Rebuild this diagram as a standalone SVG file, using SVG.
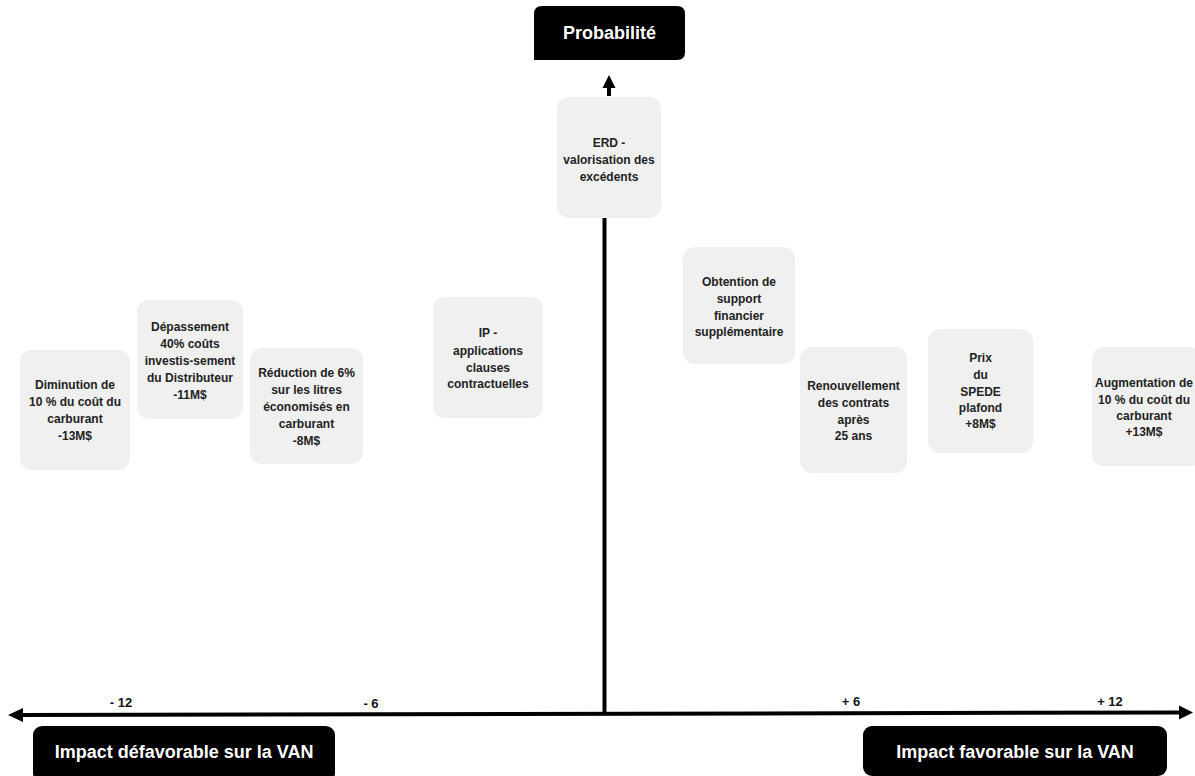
<svg xmlns="http://www.w3.org/2000/svg" width="1195" height="776" viewBox="0 0 1195 776">
<style>
.box{fill:#f0f0f0;}
.t{font-family:"Liberation Sans",Arial,sans-serif;font-weight:bold;font-size:12px;fill:#222;text-anchor:middle;}
.h{font-family:"Liberation Sans",Arial,sans-serif;font-weight:bold;font-size:18px;fill:#fff;text-anchor:middle;}
.tick{font-family:"Liberation Sans",Arial,sans-serif;font-weight:bold;font-size:13px;fill:#111;text-anchor:middle;}
.ax{stroke:#000;stroke-width:4;fill:none;}
</style>
<rect width="1195" height="776" fill="#fff"/>
<g id="connectors">
<line class="ax" x1="604.5" y1="218" x2="604.5" y2="714"/>
<line class="ax" x1="20" y1="715" x2="1182" y2="712.5"/>
<polygon points="8,715 23,708 23,722" fill="#000"/>
<polygon points="1193,712.5 1179,705.5 1179,719.5" fill="#000"/>
<line x1="609" y1="85" x2="609" y2="96" stroke="#000" stroke-width="4"/>
<polygon points="609,75 602.5,88 615.5,88" fill="#000"/>
</g>
<g id="title-probabilite">
<path d="M542,6 H677 Q685,6 685,14 V52 Q685,60 677,60 H534 V14 Q534,6 542,6 Z" fill="#000"/>
<text class="h" x="609.5" y="39">Probabilité</text>
</g>
<g id="title-defavorable">
<rect x="33" y="726" width="302" height="56" rx="9" fill="#000"/>
<text class="h" x="184" y="758">Impact défavorable sur la VAN</text>
</g>
<g id="title-favorable">
<rect x="863" y="726" width="304" height="50" rx="9" fill="#000"/>
<text class="h" x="1015" y="758">Impact favorable sur la VAN</text>
</g>
<g id="ticks">
<text class="tick" x="121" y="707">- 12</text>
<text class="tick" x="371" y="708">- 6</text>
<text class="tick" x="851" y="706">+ 6</text>
<text class="tick" x="1110" y="706">+ 12</text>
</g>
<g id="node-diminution">
<rect class="box" x="20" y="350" width="110" height="120" rx="12"/>
<text class="t" x="75" y="389">Diminution de</text>
<text class="t" x="75" y="406">10 % du coût du</text>
<text class="t" x="75" y="423">carburant</text>
<text class="t" x="75" y="440">-13M$</text>
</g>
<g id="node-depassement">
<rect class="box" x="137" y="300" width="106" height="119" rx="12"/>
<text class="t" x="190" y="331">Dépassement</text>
<text class="t" x="190" y="348">40% coûts</text>
<text class="t" x="190" y="365">investis-sement</text>
<text class="t" x="190" y="382">du Distributeur</text>
<text class="t" x="190" y="399">-11M$</text>
</g>
<g id="node-reduction">
<rect class="box" x="250" y="348" width="113" height="116" rx="12"/>
<text class="t" x="306.5" y="377">Réduction de 6%</text>
<text class="t" x="306.5" y="394">sur les litres</text>
<text class="t" x="306.5" y="411">économisés en</text>
<text class="t" x="306.5" y="428">carburant</text>
<text class="t" x="306.5" y="445">-8M$</text>
</g>
<g id="node-ip">
<rect class="box" x="433" y="297" width="110" height="121" rx="12"/>
<text class="t" x="488" y="337">IP -</text>
<text class="t" x="488" y="355">applications</text>
<text class="t" x="488" y="372">clauses</text>
<text class="t" x="488" y="388">contractuelles</text>
</g>
<g id="node-erd">
<rect class="box" x="557" y="97" width="104" height="121" rx="12"/>
<text class="t" x="609" y="147">ERD -</text>
<text class="t" x="609" y="164">valorisation des</text>
<text class="t" x="609" y="181">excédents</text>
</g>
<g id="node-obtention">
<rect class="box" x="683" y="247" width="112" height="117" rx="12"/>
<text class="t" x="739" y="286">Obtention de</text>
<text class="t" x="739" y="303">support</text>
<text class="t" x="739" y="320">financier</text>
<text class="t" x="739" y="336">supplémentaire</text>
</g>
<g id="node-renouvellement">
<rect class="box" x="800" y="347" width="107" height="126" rx="12"/>
<text class="t" x="853.5" y="390">Renouvellement</text>
<text class="t" x="853.5" y="407">des contrats</text>
<text class="t" x="853.5" y="424">après</text>
<text class="t" x="853.5" y="440">25 ans</text>
</g>
<g id="node-prix">
<rect class="box" x="928" y="329" width="105" height="124" rx="12"/>
<text class="t" x="980.5" y="362">Prix</text>
<text class="t" x="980.5" y="379">du</text>
<text class="t" x="980.5" y="396">SPEDE</text>
<text class="t" x="980.5" y="412">plafond</text>
<text class="t" x="980.5" y="428">+8M$</text>
</g>
<g id="node-augmentation">
<rect class="box" x="1092" y="347" width="110" height="119" rx="12"/>
<text class="t" x="1144" y="387">Augmentation de</text>
<text class="t" x="1144" y="404">10 % du coût du</text>
<text class="t" x="1144" y="420">carburant</text>
<text class="t" x="1144" y="436">+13M$</text>
</g>
</svg>
